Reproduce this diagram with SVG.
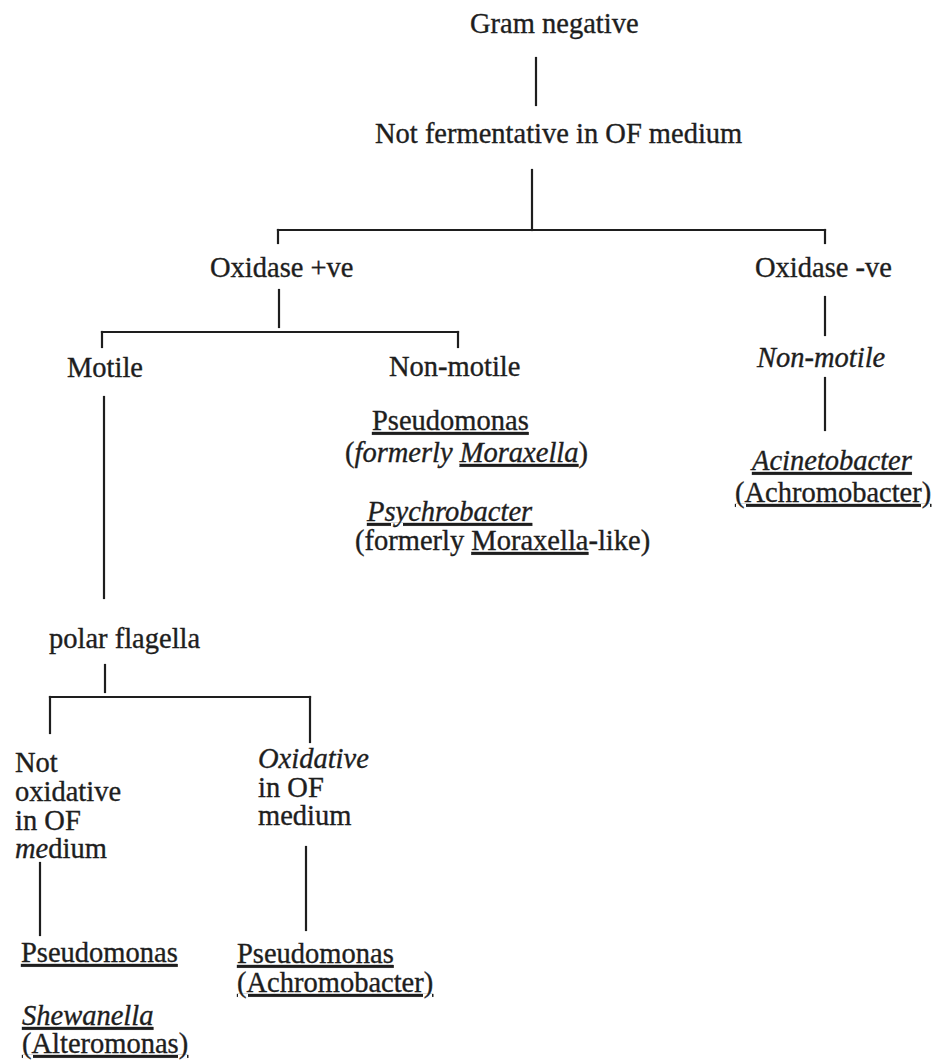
<svg xmlns="http://www.w3.org/2000/svg" width="937" height="1061" viewBox="0 0 937 1061">
<style>
text{font-family:"Liberation Serif","Times New Roman",serif;font-size:28.5px;fill:#1e1e1e;stroke:#1e1e1e;stroke-width:0.35px}
.i{font-style:italic}
.u{text-decoration:underline}
.c line{stroke:#1e1e1e;stroke-width:2.2;stroke-linecap:square;fill:none}
</style>
<rect width="937" height="1061" fill="#ffffff"/>
<g class="c" id="connectors">
<line x1="536" y1="58" x2="536" y2="105"/>
<line x1="532" y1="170" x2="532" y2="230"/>
<line x1="278" y1="230" x2="825" y2="230"/>
<line x1="278" y1="230" x2="278" y2="243"/>
<line x1="825" y1="230" x2="825" y2="243"/>
<line x1="279" y1="290" x2="279" y2="327"/>
<line x1="102" y1="332" x2="458" y2="332"/>
<line x1="102" y1="332" x2="102" y2="347"/>
<line x1="458" y1="332" x2="458" y2="347"/>
<line x1="825" y1="297" x2="825" y2="335"/>
<line x1="825" y1="378" x2="825" y2="430"/>
<line x1="104" y1="397" x2="104" y2="598"/>
<line x1="105" y1="665" x2="105" y2="692"/>
<line x1="50" y1="697" x2="310" y2="697"/>
<line x1="50" y1="697" x2="50" y2="733"/>
<line x1="310" y1="697" x2="310" y2="742"/>
<line x1="40" y1="863" x2="40" y2="935"/>
<line x1="306" y1="847" x2="306" y2="930"/>
</g>
<g id="gram-negative"><text x="470" y="33">Gram negative</text></g>
<g id="not-fermentative"><text x="375" y="143">Not fermentative in OF medium</text></g>
<g id="oxidase-pos"><text x="210" y="277">Oxidase +ve</text></g>
<g id="oxidase-neg"><text x="755" y="277">Oxidase -ve</text></g>
<g id="motile"><text x="67" y="377">Motile</text></g>
<g id="non-motile-mid"><text x="389" y="376">Non-motile</text></g>
<g id="non-motile-right"><text class="i" x="757" y="367">Non-motile</text></g>
<g id="pseudomonas-moraxella">
<text x="372" y="430"><tspan class="u">Pseudomonas</tspan></text>
<text x="345" y="462">(<tspan class="i">formerly </tspan><tspan class="i u">Moraxella</tspan>)</text>
</g>
<g id="psychrobacter">
<text x="367" y="521"><tspan class="i u">Psychrobacter</tspan></text>
<text x="355" y="550">(formerly <tspan class="u">Moraxella</tspan>-like)</text>
</g>
<g id="acinetobacter">
<text x="752" y="470"><tspan class="i u">Acinetobacter</tspan></text>
<text x="735" y="502"><tspan class="u">(Achromobacter)</tspan></text>
</g>
<g id="polar-flagella"><text x="49" y="648">polar flagella</text></g>
<g id="not-oxidative">
<text x="15" y="772">Not</text>
<text x="15" y="801">oxidative</text>
<text x="15" y="830">in OF</text>
<text x="15" y="858"><tspan class="i">me</tspan>dium</text>
</g>
<g id="oxidative">
<text x="258" y="768"><tspan class="i">Oxidative</tspan></text>
<text x="258" y="797">in OF</text>
<text x="258" y="825">medium</text>
</g>
<g id="pseudomonas-left"><text x="21" y="962"><tspan class="u">Pseudomonas</tspan></text></g>
<g id="pseudomonas-achromobacter">
<text x="237" y="963"><tspan class="u">Pseudomonas</tspan></text>
<text x="237" y="992"><tspan class="u">(Achromobacter)</tspan></text>
</g>
<g id="shewanella">
<text x="22" y="1025"><tspan class="i u">Shewanella</tspan></text>
<text x="22" y="1053"><tspan class="u">(Alteromonas)</tspan></text>
</g>
</svg>
